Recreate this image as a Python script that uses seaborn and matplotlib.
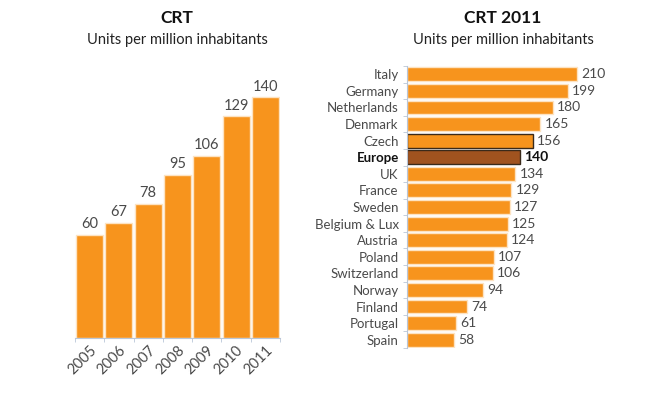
import numpy as np
import pandas as pd
import matplotlib
matplotlib.use('Agg')
import matplotlib.pyplot as plt
import seaborn as sns

# ── DATA ─────────────────────────────────────────────────────
years = ['2005', '2006', '2007', '2008', '2009', '2010', '2011']
crt_by_year = [60, 67, 78, 95, 106, 129, 140]

countries = ['Italy', 'Germany', 'Netherlands', 'Denmark', 'Czech', 'Europe',
             'UK', 'France', 'Sweden', 'Belgium & Lux', 'Austria', 'Poland',
             'Switzerland', 'Norway', 'Finland', 'Portugal', 'Spain']
crt_2011 = [210, 199, 180, 165, 156, 140, 134, 129, 127, 125, 124, 107,
            106, 94, 74, 61, 58]

ORANGE = '#f7941d'
BROWN = '#a0531f'
TXT = '#4a4a4a'
AXC = '#b9c6d8'

sns.set_style('white')
plt.rcParams['font.family'] = ['Lato', 'DejaVu Sans']

fig = plt.figure(figsize=(6.63, 3.93), dpi=100)

# ── LEFT: CRT per year ───────────────────────────────────────
ax1 = fig.add_axes([75 / 663, 1 - 338 / 393, 205 / 663, 258 / 393])
df1 = pd.DataFrame({'year': years, 'value': crt_by_year})
sns.barplot(data=df1, x='year', y='value', color=ORANGE, width=0.92,
            edgecolor='#fde3c2', linewidth=1, saturation=1, ax=ax1)
ax1.set_ylim(0, 150)
ax1.set_xlim(-0.5, len(years) - 0.5)
for i, v in enumerate(crt_by_year):
    ax1.text(i, v + 2, str(v), ha='center', va='bottom', fontsize=10.5, color=TXT)
ax1.set_xlabel('')
ax1.set_ylabel('')
ax1.set_yticks([])
ax1.set_xticks(range(len(years)))
ax1.set_xticklabels(years, rotation=45, ha='right', rotation_mode='anchor',
                    fontsize=10.5, color=TXT)
ax1.set_xticks(np.arange(-0.5, len(years), 1), minor=True)
ax1.tick_params(axis='x', which='major', length=0, pad=4)
ax1.tick_params(axis='x', which='minor', length=3, color=AXC, bottom=True)
for s in ['top', 'right', 'left']:
    ax1.spines[s].set_visible(False)
ax1.spines['bottom'].set_color(AXC)
fig.text(177 / 663, 1 - 18 / 393, 'CRT', ha='center', va='center',
         fontsize=12.5, fontweight='bold', color='#111111')
fig.text(177 / 663, 1 - 40 / 393, 'Units per million inhabitants',
         ha='center', va='center', fontsize=10.5, color='#222222')

# ── RIGHT: CRT 2011 by country ───────────────────────────────
ax2 = fig.add_axes([407 / 663, 1 - 348 / 393, 186 / 663, 282 / 393])
df2 = pd.DataFrame({'country': countries, 'value': crt_2011})
palette = [BROWN if c == 'Europe' else ORANGE for c in countries]
sns.barplot(data=df2, y='country', x='value', hue='country', palette=palette,
            legend=False, width=0.84, edgecolor='#fde3c2', linewidth=1,
            saturation=1, ax=ax2)
for bar, c in zip(ax2.patches, countries):
    if c in ('Czech', 'Europe'):
        bar.set_edgecolor('#3a2a1a')
        bar.set_linewidth(1)
ax2.set_xlim(0, 230)
ax2.set_ylim(len(countries) - 0.5, -0.5)
for i, v in enumerate(crt_2011):
    bold = countries[i] == 'Europe'
    ax2.text(v + 5, i, str(v), ha='left', va='center', fontsize=10,
             color='#111111' if bold else TXT,
             fontweight='bold' if bold else 'normal')
ax2.set_xlabel('')
ax2.set_ylabel('')
ax2.set_xticks([])
ax2.set_yticks(range(len(countries)))
ax2.set_yticklabels(countries, fontsize=9.5, color=TXT)
for lbl in ax2.get_yticklabels():
    if lbl.get_text() == 'Europe':
        lbl.set_fontweight('bold')
        lbl.set_color('#111111')
ax2.set_yticks(np.arange(-0.5, len(countries), 1), minor=True)
ax2.tick_params(axis='y', which='major', length=0, pad=6)
ax2.tick_params(axis='y', which='minor', length=3, color=AXC, left=True)
for s in ['top', 'right', 'bottom']:
    ax2.spines[s].set_visible(False)
ax2.spines['left'].set_color(AXC)
fig.text(503 / 663, 1 - 18 / 393, 'CRT 2011', ha='center', va='center',
         fontsize=12.5, fontweight='bold', color='#111111')
fig.text(503 / 663, 1 - 40 / 393, 'Units per million inhabitants',
         ha='center', va='center', fontsize=10.5, color='#222222')

fig.savefig('out.png', dpi=100)
